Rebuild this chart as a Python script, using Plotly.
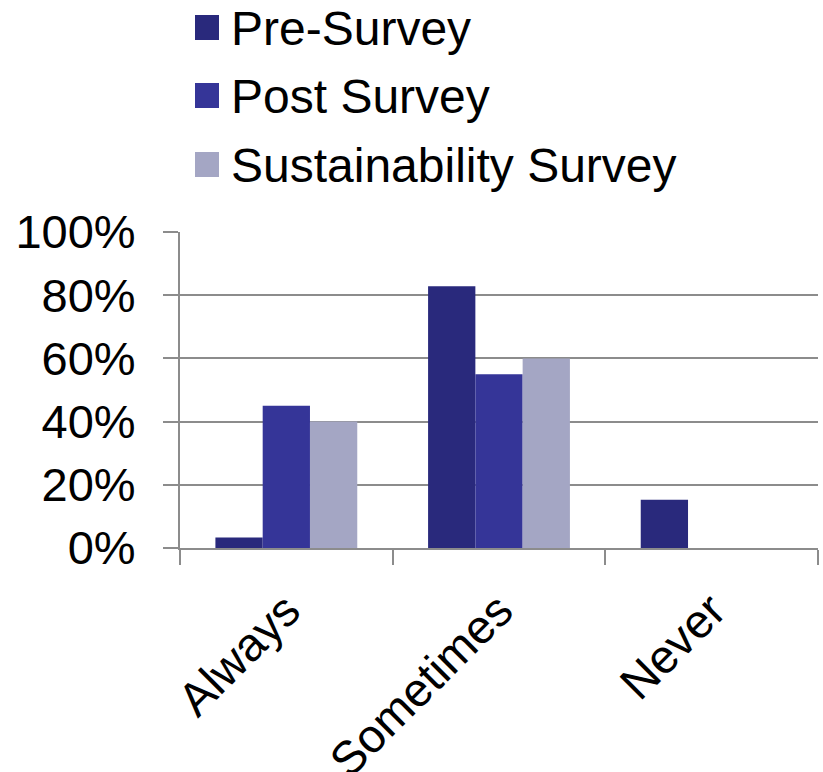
import plotly.graph_objects as go

categories = ["Always", "Sometimes", "Never"]
series_names = ["Pre-Survey", "Post Survey", "Sustainability Survey"]
pre_survey = [0.033, 0.828, 0.153]
post_survey = [0.45, 0.55, 0.0]
sustain_survey = [0.40, 0.60, 0.0]
colors = ["#29297C", "#353598", "#A4A6C4"]
tick_vals = [0, 0.2, 0.4, 0.6, 0.8, 1.0]
tick_text = ["0%", "20%", "40%", "60%", "80%", "100%"]

W, H = 823, 772
ML, MR, MT, MB = 180, 5, 232, 224
PW = W - ML - MR
PH = H - MT - MB

fig = go.Figure()
for name, vals, c in zip(series_names, [pre_survey, post_survey, sustain_survey], colors):
    fig.add_trace(go.Bar(x=categories, y=vals, name=name, marker_color=c,
                         marker_line_width=0, showlegend=False))

FONT = "Liberation Sans, Arial, sans-serif"

# manual legend (large square swatches)
def px_x(p):
    return (p - ML) / PW

def px_y(p):
    return (H - MB - p) / PH

rows = [(15, 40), (83, 108), (152, 177)]
for (top, bot), name, c in zip(rows, series_names, colors):
    fig.add_shape(type="rect", xref="paper", yref="paper",
                  x0=px_x(195), x1=px_x(219), y0=px_y(bot), y1=px_y(top),
                  fillcolor=c, line_width=0)
    fig.add_annotation(xref="paper", yref="paper", x=px_x(229), y=px_y((top + bot) / 2 + 1),
                       text=name, showarrow=False, xanchor="left", yanchor="middle",
                       font=dict(size=48, color="black", family=FONT))

fig.update_layout(
    width=W, height=H,
    margin=dict(l=ML, r=MR, t=MT, b=MB, pad=0, autoexpand=False),
    paper_bgcolor="white", plot_bgcolor="white",
    barmode="group", bargap=0.333, bargroupgap=0,
    font=dict(family=FONT, color="black", size=47),
    showlegend=False,
)
fig.update_yaxes(range=[0, 1], tickvals=tick_vals, ticktext=tick_text,
                 automargin=False,
                 showgrid=True, gridcolor="#8C8C8C", gridwidth=2,
                 showline=True, linecolor="#8C8C8C", linewidth=2,
                 ticks="outside", ticklen=15, tickcolor="#8C8C8C", tickwidth=2,
                 ticklabelstandoff=18, zeroline=False,
                 tickfont=dict(size=47, color="black", family=FONT))
fig.update_xaxes(automargin=False,
                 showgrid=False, showline=True, linecolor="#8C8C8C", linewidth=2,
                 ticks="outside", tickson="boundaries", ticklen=15,
                 tickcolor="#8C8C8C", tickwidth=2, tickangle=-45,
                 ticklabelstandoff=14,
                 tickfont=dict(size=47, color="black", family=FONT))

fig.write_html("out.html")
